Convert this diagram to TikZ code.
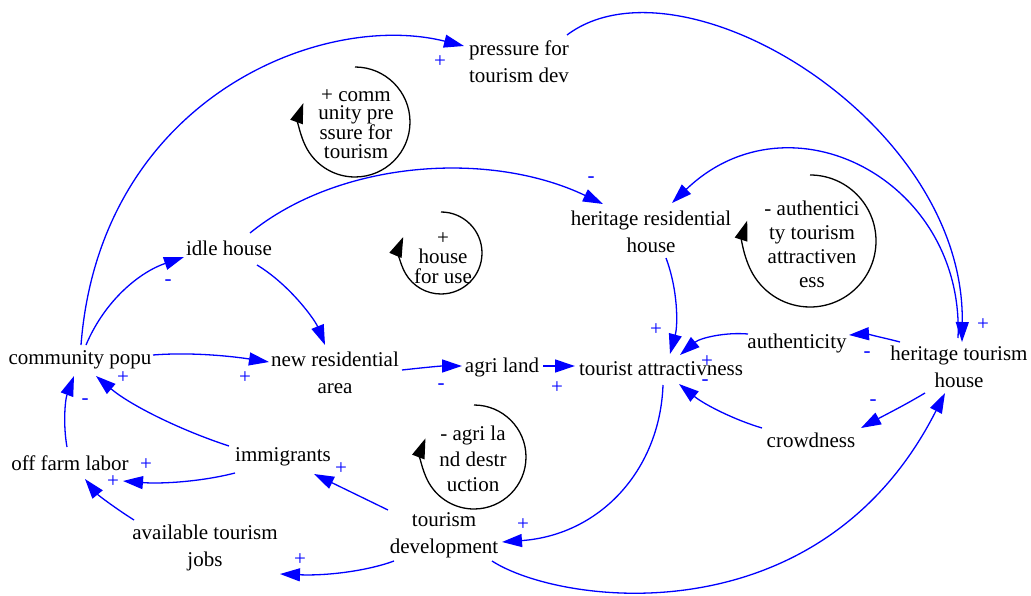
\documentclass[tikz,border=0pt]{standalone}
\usepackage{fontspec}
\setmainfont{Liberation Serif}
\usetikzlibrary{arrows.meta,calc}
\begin{document}
\begin{tikzpicture}[x=1pt,y=-1pt,
  var/.style={inner sep=0pt, align=center, font=\fontsize{21}{27}\selectfont},
  sign/.style={inner sep=0pt, text=blue, font=\fontsize{21}{21}\selectfont},
  link/.style={draw=blue, line width=1.3pt, -{Triangle[length=20pt,width=13pt]}},
  loopline/.style={draw=black, line width=1.3pt, -{Triangle[length=20pt,width=13pt]}},
  looptext/.style={inner sep=0pt, align=center}]
\useasboundingbox (0,0) rectangle (1031,596);

% variables
\node[var] (ptd)   at (519,62)  {pressure for\\tourism dev};
\node[var] (hrh)   at (651,232) {heritage residential\\house};
\node[var] (idle)  at (229,248) {idle house};
\node[var] (cp)    at (80,360)  {community popu};
\node[var] (nra)   at (335,373) {new residential\\area};
\node[var] (agri)  at (502,367) {agri land};
\node[var] (ta)    at (661,369) {tourist attractivness};
\node[var] (auth)  at (797,343) {authenticity};
\node[var] (hth)   at (959,367) {heritage tourism\\house};
\node[var] (crowd) at (811,440) {crowdness};
\node[var] (ofl)   at (70,463)  {off farm labor};
\node[var] (imm)   at (283,457) {immigrants};
\node[var] (atj)   at (205,548) {available tourism\\jobs};
\node[var] (td)    at (444,535) {tourism\\development};

% causal links
\draw[link] ($(cp)+(1,-15)$) .. controls (100,100) and (320,10) .. ($(ptd)+(-55,-16)$);
\draw[link] ($(ptd)+(48,-27)$) .. controls (680,-50) and (965,120) .. ($(hth)+(3,-25)$);
\draw[link] ($(idle)+(21,-15)$) .. controls (340,160) and (490,150) .. ($(hrh)+(-48,-28)$);
\draw[link] ($(idle)+(28,17)$) .. controls (290,285) and (315,320) .. ($(nra)+(-10,-28)$);
\draw[link] ($(cp)+(6,-15)$) .. controls (105,300) and (140,272) .. ($(idle)+(-45,9)$);
\draw[link] ($(cp)+(73,-5)$) .. controls (190,352) and (230,356) .. ($(nra)+(-66,-11)$);
\draw[link] ($(imm)+(-54,-11)$) .. controls (180,430) and (130,405) .. ($(cp)+(16,16)$);
\draw[link] ($(ofl)+(-3,-16)$) .. controls (63,425) and (65,400) .. ($(cp)+(-6,16)$);
\draw[link] ($(imm)+(-48,16)$) .. controls (200,482) and (160,484) .. ($(ofl)+(53,18)$);
\draw[link] ($(atj)+(-71,-28)$) .. controls (115,508) and (98,495) .. ($(ofl)+(15,16)$);
\draw[link] ($(nra)+(67,-3)$) .. controls (420,368) and (440,366) .. ($(agri)+(-40,-1)$);
\draw[link] ($(agri)+(41,-1)$) -- ($(ta)+(-86,-3)$);
\draw[link] ($(hrh)+(15,26)$) .. controls (678,290) and (678,325) .. ($(ta)+(9,-15)$);
\draw[link] ($(auth)+(-49,-9)$) .. controls (725,332) and (700,338) .. ($(ta)+(19,-14)$);
\draw[link] ($(crowd)+(-49,-12)$) .. controls (735,420) and (705,405) .. ($(ta)+(18,15)$);
\draw[link] ($(hth)+(-59,-25)$) .. controls (885,338) and (865,334) .. ($(auth)+(52,-8)$);
\draw[link] ($(hth)+(-34,26)$) .. controls (905,405) and (885,415) .. ($(crowd)+(50,-12)$);
\draw[link] ($(hth)+(-1,-29)$) .. controls (965,180) and (790,90) .. ($(hrh)+(21,-29)$);
\draw[link] ($(ta)+(2,16)$) .. controls (660,470) and (600,535) .. ($(td)+(58,7)$);
\draw[link] ($(td)+(48,26)$) .. controls (560,605) and (820,640) .. ($(hth)+(-14,26)$);
\draw[link] ($(td)+(-56,-25)$) -- ($(imm)+(31,17)$);
\draw[link] ($(td)+(-50,26)$) .. controls (370,570) and (330,576) .. ($(atj)+(75,26)$);

% link polarities
\node[sign] (p1)  at (440,62)  {+};
\node[sign] (p2)  at (983,325) {+};
\node[sign] (p3)  at (591,180) {-};
\node[sign] (p4)  at (168,283) {-};
\node[sign] (p5)  at (245,378) {+};
\node[sign] (p6)  at (123,378) {+};
\node[sign] (p7)  at (85,402)  {-};
\node[sign] (p8)  at (146,465) {+};
\node[sign] (p9)  at (113,482) {+};
\node[sign] (p10) at (441,387) {-};
\node[sign] (p11) at (557,388) {+};
\node[sign] (p12) at (656,330) {+};
\node[sign] (p13) at (707,362) {+};
\node[sign] (p14) at (705,383) {-};
\node[sign] (p15) at (867,355) {-};
\node[sign] (p16) at (873,403) {-};
\node[sign] (p17) at (523,525) {+};
\node[sign] (p18) at (341,469) {+};
\node[sign] (p19) at (300,560) {+};

% feedback loops
\draw[loopline] (355,67) arc[start angle=-90, end angle=200, radius=55];
\node[looptext, font=\fontsize{21}{18.5}\selectfont] (l1) at (356,124) {+ comm\\unity pre\\ssure for\\tourism};
\draw[loopline] (441,212) arc[start angle=-90, end angle=203, radius=41];
\node[looptext, font=\fontsize{21}{19.5}\selectfont] (l2) at (443,258) {+\\house\\for use};
\draw[loopline] (810,175) arc[start angle=-90, end angle=198, radius=66];
\node[looptext, font=\fontsize{21}{24}\selectfont] (l3) at (812,244) {- authentici\\ty tourism\\attractiven\\ess};
\draw[loopline] (474,405) arc[start angle=-90, end angle=201, radius=52];
\node[looptext, font=\fontsize{21}{25.5}\selectfont] (l4) at (473,459) {- agri la\\nd destr\\uction};
\end{tikzpicture}
\end{document}
